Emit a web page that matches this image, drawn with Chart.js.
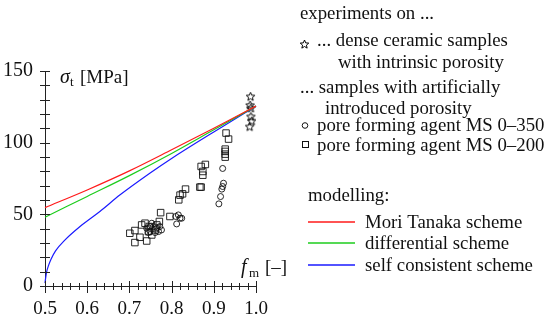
<!DOCTYPE html>
<html>
<head>
<meta charset="utf-8">
<script src="https://cdn.jsdelivr.net/npm/chart.js"></script>
<style>
  html, body { margin: 0; padding: 0; background: #fff; }
</style>
</head>
<body>
<canvas id="chart" width="550" height="321"></canvas>
<script>
// model curves
const moriX = [0.5, 0.6, 0.7, 0.8, 0.9, 1.0];
const moriY = [54.7, 67, 80.3, 95, 110, 125.5];
const diffX = [0.5, 0.6, 0.7, 0.8, 0.9, 1.0];
const diffY = [48, 62.5, 77, 92.5, 109, 125.5];
const scX = [0.5, 0.5015, 0.504, 0.508, 0.514, 0.525, 0.547, 0.583, 0.63, 0.678, 0.75, 0.8, 0.9, 1.0];
const scY = [2, 5.5, 10, 14, 18.5, 24.5, 32, 41.5, 52, 63.6, 79, 89, 107.5, 125.5];

// experiments
const denseX = [0.987, 0.986, 0.988, 0.988, 0.990, 0.985];
const denseY = [132, 126, 124, 118, 115, 111];
const ms350X = [0.921, 0.923, 0.921, 0.919, 0.916, 0.912, 0.816, 0.820, 0.824, 0.812, 0.810,
                0.741, 0.749, 0.757, 0.765, 0.772, 0.753, 0.745, 0.769, 0.761, 0.776, 0.749];
const ms350Y = [82, 71.7, 69.4, 67.6, 62.4, 57.3, 49.6, 47.3, 47.3, 43.3, 48.5,
                40.3, 38, 41.5, 40.3, 41.5, 43.8, 37.3, 38, 37.3, 39.1, 41.5];
const ms200X = [0.929, 0.935, 0.927, 0.927, 0.927, 0.927, 0.870, 0.880, 0.874, 0.874, 0.867, 0.870,
                0.833, 0.826, 0.820, 0.817, 0.774, 0.796, 0.701, 0.713, 0.713, 0.725, 0.741,
                0.729, 0.737, 0.747, 0.753, 0.761, 0.771, 0.765, 0.745];
const ms200Y = [106.7, 102.5, 95.5, 93.9, 92, 89.9, 83.4, 84.8, 79.9, 77.3, 69, 69,
                67.6, 64.3, 63.4, 60.1, 51.2, 48.5, 36.8, 38.7, 30.3, 34, 31.4,
                42.6, 43.8, 41.5, 35.6, 39.1, 45, 42.6, 38];

const xTickLabels = ['0.5', '0.6', '0.7', '0.8', '0.9', '1.0'];
const yTickLabels = ['0', '50', '100', '150'];

const serif = '"Liberation Serif", "DejaVu Serif", serif';
const RED = '#ff1a1a', GREEN = '#1ccc1c', BLUE = '#1a1aff';

function pts(xs, ys) {
    return xs.map((x, i) => ({ x: x, y: ys[i] }));
}

// outlined five point star used as marker
function makeStar(size) {
    const c = document.createElement('canvas');
    c.width = size; c.height = size;
    const g = c.getContext('2d');
    const cx = size / 2, cy = size / 2, ro = size / 2 - 1, ri = ro * 0.45;
    g.beginPath();
    for (let i = 0; i < 10; i++) {
        const r = i % 2 ? ri : ro;
        const a = -Math.PI / 2 + i * Math.PI / 5;
        g.lineTo(cx + r * Math.cos(a), cy + r * Math.sin(a));
    }
    g.closePath();
    g.lineWidth = 1;
    g.strokeStyle = '#000';
    g.stroke();
    return c;
}
const star = makeStar(11);

// crossing tick marks, axis titles and the text legend
const decorations = {
    id: 'decorations',
    afterDraw(chart) {
        const ctx = chart.ctx;
        const xs = chart.scales.x, ys = chart.scales.y;
        const left = xs.left, bottom = ys.bottom;
        ctx.save();
        ctx.strokeStyle = '#222';
        ctx.lineWidth = 1;
        ctx.beginPath();
        for (let v = 0; v <= 150.01; v += 10) {
            const y = Math.round(ys.getPixelForValue(v)) + 0.5;
            ctx.moveTo(left - 5, y); ctx.lineTo(left + 5, y);
        }
        for (let i = 0; i <= 25; i++) {
            const v = 0.5 + i * 0.02;
            const x = Math.round(xs.getPixelForValue(v)) + 0.5;
            if (i % 5 === 0) { ctx.moveTo(x, bottom - 5); ctx.lineTo(x, bottom + 7); }
            else { ctx.moveTo(x, bottom - 3); ctx.lineTo(x, bottom + 4); }
        }
        ctx.stroke();

        ctx.fillStyle = '#111';
        ctx.textBaseline = 'alphabetic';
        ctx.textAlign = 'left';
        // y title
        ctx.font = 'italic 20px ' + serif;
        ctx.fillText('σ', 60, 83);
        ctx.font = '13px ' + serif;
        ctx.fillText('t', 70, 86);
        ctx.font = '19px ' + serif;
        ctx.fillText('[MPa]', 80, 83);
        // x title
        ctx.font = 'italic 20px ' + serif;
        ctx.fillText('f', 241, 273);
        ctx.font = '13px ' + serif;
        ctx.fillText('m', 249, 277);
        ctx.font = '19px ' + serif;
        ctx.fillText('[–]', 265, 273);

        // legend
        ctx.font = '18.8px ' + serif;
        ctx.fillText('experiments on ...', 300, 19);
        ctx.drawImage(star, 299, 39);
        ctx.fillText('... dense ceramic samples', 317, 46);
        ctx.fillText('with intrinsic porosity', 338, 68);
        ctx.fillText('... samples with artificially', 300, 93);
        ctx.fillText('introduced porosity', 325, 114);
        ctx.beginPath();
        ctx.lineWidth = 1;
        ctx.strokeStyle = '#111';
        ctx.arc(305, 125.5, 2.8, 0, Math.PI * 2);
        ctx.stroke();
        ctx.fillText('pore forming agent MS 0–350', 317, 131);
        ctx.strokeRect(302.5, 141.5, 6, 6);
        ctx.fillText('pore forming agent MS 0–200', 317, 151);

        ctx.fillText('modelling:', 308, 201);
        const models = [[RED, 'Mori Tanaka scheme', 222],
                        [GREEN, 'differential scheme', 243],
                        [BLUE, 'self consistent scheme', 265]];
        models.forEach(m => {
            ctx.strokeStyle = m[0];
            ctx.lineWidth = 1.3;
            ctx.beginPath();
            ctx.moveTo(308, m[2]); ctx.lineTo(355, m[2]);
            ctx.stroke();
            ctx.fillText(m[1], 365, m[2] + 6);
        });
        ctx.restore();
    }
};

const line = (label, xs, ys, color) => ({
    label: label,
    data: pts(xs, ys),
    showLine: true,
    borderColor: color,
    borderWidth: 1.2,
    pointRadius: 0,
    cubicInterpolationMode: 'monotone',
    clip: false,
    fill: false
});

new Chart(document.getElementById('chart').getContext('2d'), {
    type: 'scatter',
    data: {
        datasets: [
            line('Mori Tanaka scheme', moriX, moriY, RED),
            line('differential scheme', diffX, diffY, GREEN),
            line('self consistent scheme', scX, scY, BLUE),
            {
                label: 'dense ceramic samples',
                data: pts(denseX, denseY),
                pointStyle: star,
                pointRadius: 5
            },
            {
                label: 'MS 0-350',
                data: pts(ms350X, ms350Y),
                pointStyle: 'circle',
                pointRadius: 3,
                borderColor: '#111',
                borderWidth: 0.9,
                backgroundColor: 'rgba(0,0,0,0)'
            },
            {
                label: 'MS 0-200',
                data: pts(ms200X, ms200Y),
                pointStyle: 'rect',
                pointRadius: 4.6,
                borderColor: '#111',
                borderWidth: 0.9,
                backgroundColor: 'rgba(0,0,0,0)'
            }
        ]
    },
    options: {
        responsive: false,
        animation: false,
        devicePixelRatio: 1,
        layout: { padding: { left: 0, top: 71, right: 294, bottom: 0 } },
        plugins: { legend: { display: false }, tooltip: { enabled: false } },
        scales: {
            x: {
                type: 'linear',
                min: 0.5,
                max: 1.0,
                grid: { display: false, drawTicks: false },
                border: { display: true, color: '#222', width: 1 },
                afterFit: s => { s.height = 35; },
                ticks: {
                    stepSize: 0.1,
                    padding: 12,
                    color: '#111',
                    font: { family: serif, size: 19 },
                    callback: (v, i) => xTickLabels[i]
                }
            },
            y: {
                min: 0,
                max: 150,
                grid: { display: false, drawTicks: false },
                border: { display: true, color: '#222', width: 1 },
                afterFit: s => { s.width = 45; },
                ticks: {
                    stepSize: 50,
                    padding: 12,
                    color: '#111',
                    font: { family: serif, size: 20 },
                    callback: (v, i) => yTickLabels[i]
                }
            }
        }
    },
    plugins: [decorations]
});
</script>
</body>
</html>
